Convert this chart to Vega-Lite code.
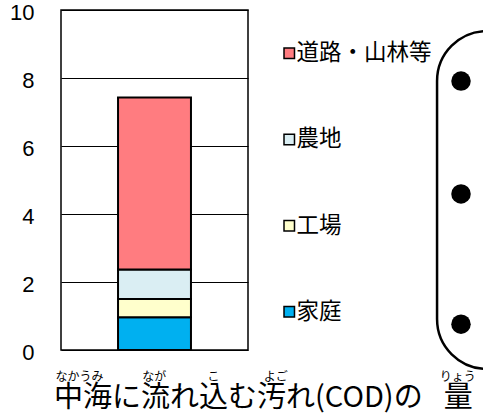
{
  "$schema": "https://vega.github.io/schema/vega-lite/v6.json",
  "autosize": "none",
  "width": 187,
  "height": 340,
  "padding": {"left": 61, "top": 10, "right": 235, "bottom": 64},
  "background": "white",
  "config": {"view": {"stroke": "black", "strokeWidth": 1.5}},
  "title": {
    "text": "中海に流れ込む汚れ(COD)の\u2002\u00a0量",
    "orient": "bottom",
    "anchor": "start",
    "frame": "group",
    "dx": -7,
    "offset": 2,
    "font": "Noto Sans CJK JP",
    "fontSize": 29,
    "fontWeight": "normal",
    "color": "black"
  },
  "datasets": {
    "cod": [
      {"source": "家庭", "value": 0.96, "rank": 1},
      {"source": "工場", "value": 0.54, "rank": 2},
      {"source": "農地", "value": 0.87, "rank": 3},
      {"source": "道路・山林等", "value": 5.06, "rank": 4}
    ],
    "bullets": [
      {"bullet": 1, "level": 7.91},
      {"bullet": 2, "level": 4.59},
      {"bullet": 3, "level": 0.76}
    ],
    "frame": [{"shape": "rounded box"}]
  },
  "layer": [
    {
      "data": {"name": "cod"},
      "transform": [
        {"stack": "value", "groupby": [], "sort": [{"field": "rank", "order": "ascending"}], "as": ["v0", "v1"]}
      ],
      "mark": {"type": "bar", "stroke": "black", "strokeWidth": 2},
      "encoding": {
        "x": {
          "datum": 0.305,
          "type": "quantitative",
          "scale": {"domain": [0, 1], "nice": false, "zero": false, "padding": 0},
          "axis": {
            "title": "なかうみ\u3000\u3000\u3000\u00a0なが\u3000\u3000\u3000\u00a0\u00a0こ\u3000\u3000\u3000\u00a0\u00a0\u00a0よご\u3000\u3000\u3000\u3000\u3000\u3000\u3000\u3000\u3000\u3000\u3000\u3000\u00a0\u00a0\u00a0りょう",
            "labels": false,
            "ticks": false,
            "domain": false,
            "grid": false,
            "titleFont": "Noto Sans CJK JP",
            "titleFontSize": 12,
            "titleFontWeight": "normal",
            "titleColor": "black",
            "titleAlign": "left",
            "titleAnchor": "start",
            "titleX": -6,
            "titleY": 30,
            "titleBaseline": "alphabetic"
          }
        },
        "x2": {"datum": 0.695},
        "y": {
          "field": "v0",
          "type": "quantitative",
          "scale": {"domain": [0, 10], "nice": false, "zero": false, "padding": 0},
          "axis": {
            "title": null,
            "values": [0, 2, 4, 6, 8, 10],
            "domain": false,
            "ticks": false,
            "grid": true,
            "gridColor": "black",
            "gridWidth": 1,
            "gridOpacity": 1,
            "labelFont": "Liberation Sans",
            "labelFontSize": 22,
            "labelColor": "black",
            "labelPadding": 27,
            "labelOffset": 2.5,
            "labelFlush": false
          }
        },
        "y2": {"field": "v1"},
        "color": {
          "field": "source",
          "type": "nominal",
          "scale": {
            "domain": ["道路・山林等", "農地", "工場", "家庭"],
            "range": ["#FF7C80", "#DAEEF3", "#FFFFCC", "#00B0F0"]
          },
          "legend": {
            "orient": "none",
            "legendX": 217,
            "legendY": 32,
            "title": null,
            "padding": 0,
            "symbolType": "square",
            "symbolSize": 110,
            "symbolStrokeColor": "black",
            "symbolStrokeWidth": 1.5,
            "symbolOpacity": 1,
            "labelFont": "Noto Sans CJK JP",
            "labelFontSize": 22.5,
            "labelColor": "black",
            "labelOffset": -4,
            "labelLimit": 300,
            "rowPadding": 63.2
          }
        }
      }
    },
    {
      "data": {"name": "frame"},
      "mark": {"type": "rect", "fill": "white", "fillOpacity": 0, "stroke": "black", "strokeWidth": 2.5, "cornerRadius": 50},
      "encoding": {
        "x": {"datum": 2.011, "type": "quantitative"},
        "x2": {"datum": 3.2},
        "y": {"datum": 9.382, "type": "quantitative"},
        "y2": {"datum": -0.559}
      }
    },
    {
      "data": {"name": "bullets"},
      "mark": {"type": "point", "shape": "circle", "filled": true, "size": 380, "color": "black", "opacity": 1},
      "encoding": {
        "x": {"datum": 2.139, "type": "quantitative"},
        "y": {"field": "level", "type": "quantitative", "title": null}
      }
    }
  ]
}
